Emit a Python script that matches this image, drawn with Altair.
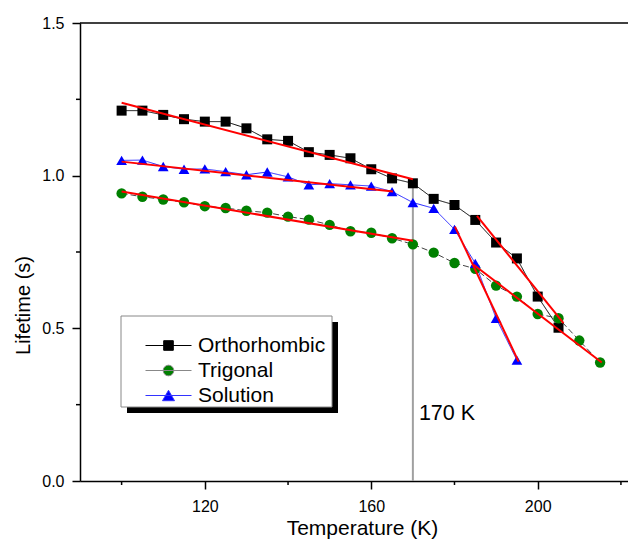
import altair as alt
import pandas as pd

# ---------------- data ----------------
series_names = ["Orthorhombic", "Trigonal", "Solution"]

temp_ortho = [100, 105, 110, 115, 120, 125, 130, 135, 140, 145, 150, 155, 160,
              165, 170, 175, 180, 185, 190, 195, 200, 205]
life_ortho = [1.213, 1.213, 1.199, 1.185, 1.177, 1.177, 1.155, 1.119, 1.114, 1.077,
              1.068, 1.057, 1.021, 0.991, 0.975, 0.924, 0.904, 0.855, 0.781, 0.729,
              0.604, 0.502]

temp_trig = [100, 105, 110, 115, 120, 125, 130, 135, 140, 145, 150, 155, 160,
             165, 170, 175, 180, 185, 190, 195, 200, 205, 210, 215]
life_trig = [0.942, 0.931, 0.922, 0.913, 0.900, 0.894, 0.885, 0.879, 0.866, 0.856,
             0.839, 0.818, 0.813, 0.795, 0.775, 0.748, 0.714, 0.695, 0.640, 0.604,
             0.547, 0.533, 0.460, 0.388]

temp_sol = [100, 105, 110, 115, 120, 125, 130, 135, 140, 145, 150, 155, 160,
            165, 170, 175, 180, 185, 190, 195]
life_sol = [1.050, 1.051, 1.030, 1.021, 1.022, 1.013, 1.003, 1.012, 0.996, 0.970,
            0.974, 0.970, 0.966, 0.948, 0.912, 0.893, 0.824, 0.713, 0.533, 0.396]

# red linear fits (segment id, start/end)
fit_id = ["O1", "O1", "O2", "O2", "T1", "T1", "T2", "T2", "S1", "S1", "S2", "S2"]
fit_temp = [100, 170, 185.4, 206.2, 100, 170, 184.6, 215.4, 100, 165.2, 180.1, 195.4]
fit_life = [1.239, 0.988, 0.868, 0.517, 0.948, 0.787, 0.708, 0.388, 1.046, 0.948, 0.833, 0.391]

x_major = [120, 160, 200]
x_minor = [100, 140, 180, 220]
y_major = [0.0, 0.5, 1.0, 1.5]
y_minor = [0.25, 0.75, 1.25]

marker_T = [170]
marker_L_top = [0.975]
annot_text = ["170 K"]
annot_L = [0.22]

# ---------------- styling ----------------
FONT = "Liberation Sans"
W, H = 548, 458
X_DOMAIN = [90, 221.7]
Y_DOMAIN = [0, 1.5]

fill_colors = ["#000000", "#008000", "#0000ff"]
line_colors = ["#000000", "#444444", "#2222ff"]
legend_line_colors = ["#000000", "#888888", "#3333ff"]
shapes = ["square", "circle", "triangle-up"]
sizes = [100, 115, 150]
dashes = [[1, 0], [6, 3], [1, 0]]
# legend symbols: unit = sqrt(400)/2 = 10 px
legend_paths = [
    "M-2.3,0H2.3M-0.48,-0.48H0.48V0.48H-0.48Z",
    "M-2.3,0H2.3M0.53,0A0.53,0.53,0,1,1,-0.53,0A0.53,0.53,0,1,1,0.53,0Z",
    "M-2.3,0H2.3M0,-0.52L0.6,0.52H-0.6Z",
]

df = pd.concat([
    pd.DataFrame({"series": series_names[0], "T": temp_ortho, "L": life_ortho}),
    pd.DataFrame({"series": series_names[1], "T": temp_trig, "L": life_trig}),
    pd.DataFrame({"series": series_names[2], "T": temp_sol, "L": life_sol}),
], ignore_index=True)
df_fit = pd.DataFrame({"seg": fit_id, "T": fit_temp, "L": fit_life})

xscale = alt.Scale(domain=X_DOMAIN, nice=False, zero=False)
yscale = alt.Scale(domain=Y_DOMAIN, nice=False, zero=True)
xaxis = alt.Axis(values=x_major, title="Temperature (K)", grid=False,
                 labelFont=FONT, labelFontSize=16, labelColor="black", labelPadding=9,
                 tickSize=8, tickWidth=1.5, tickColor="black",
                 domainColor="black", domainWidth=1.5,
                 titleFont=FONT, titleFontSize=21, titleFontWeight="normal",
                 titleColor="black", titleX=282, titleY=47, titleBaseline="middle")
yaxis = alt.Axis(values=y_major, format=".1f", title="Lifetime (s)", grid=False,
                 labelFont=FONT, labelFontSize=16, labelColor="black", labelPadding=8,
                 tickSize=8, tickWidth=1.5, tickColor="black",
                 domainColor="black", domainWidth=1.5,
                 titleFont=FONT, titleFontSize=20, titleFontWeight="normal",
                 titleColor="black", titleX=-57, titleY=282, titleBaseline="middle",
                 titleAlign="center")


def X(field):
    return alt.X(field, type="quantitative", scale=xscale, axis=xaxis)


def Y(field):
    return alt.Y(field, type="quantitative", scale=yscale, axis=yaxis)


one = pd.DataFrame({"a": [0]})

# legend box shadow + box
shadow = alt.Chart(one).mark_rect(color="black").encode(
    x=alt.value(47), x2=alt.value(258), y=alt.value(299), y2=alt.value(390))
box = alt.Chart(one).mark_rect(fill="white", stroke="#888888", strokeWidth=1).encode(
    x=alt.value(41), x2=alt.value(252), y=alt.value(293), y2=alt.value(384))

# top frame line
top_line = alt.Chart(one).mark_rule(color="black", strokeWidth=1.5).encode(
    x=alt.value(0), x2=alt.value(W), y=alt.Y(datum=1.5, scale=yscale, axis=yaxis))

# minor ticks
minor_x = alt.Chart(pd.DataFrame({"t": x_minor})).mark_rule(
    color="black", strokeWidth=1.5).encode(
    x=X("t"), y=alt.value(H), y2=alt.value(H + 4))
minor_y = alt.Chart(pd.DataFrame({"v": y_minor})).mark_rule(
    color="black", strokeWidth=1.5).encode(
    y=Y("v"), x=alt.value(0), x2=alt.value(-4))

# vertical 170 K marker
df_mark = pd.DataFrame({"T": marker_T, "L0": [0.0], "L1": marker_L_top})
vline = alt.Chart(df_mark).mark_rule(color="#a0a0a0", strokeWidth=2).encode(
    x=X("T"), y=Y("L0"), y2=alt.Y2("L1"))

lines = alt.Chart(df).mark_line(strokeWidth=1).encode(
    x=X("T"), y=Y("L"),
    stroke=alt.Stroke("series:N", scale=alt.Scale(domain=series_names, range=line_colors), legend=None),
    strokeDash=alt.StrokeDash("series:N", scale=alt.Scale(domain=series_names, range=dashes), legend=None),
)

points = alt.Chart(df).mark_point(filled=True, opacity=1, strokeWidth=0).encode(
    x=X("T"), y=Y("L"),
    fill=alt.Fill("series:N", scale=alt.Scale(domain=series_names, range=fill_colors), legend=None),
    shape=alt.Shape("series:N", scale=alt.Scale(domain=series_names, range=shapes), legend=None),
    size=alt.Size("series:N", scale=alt.Scale(domain=series_names, range=sizes), legend=None),
)

fits = alt.Chart(df_fit).mark_line(color="red", strokeWidth=2).encode(
    x=X("T"), y=Y("L"), detail="seg:N")

annot = alt.Chart(pd.DataFrame({"T": marker_T, "L": annot_L, "txt": annot_text})).mark_text(
    align="left", baseline="middle", dx=6, font=FONT, fontSize=21.5, color="black").encode(
    x=X("T"), y=Y("L"), text="txt:N")

leg = dict(title=None, orient="none", legendX=78, legendY=312,
           labelFont=FONT, labelFontSize=21, labelColor="black",
           symbolSize=400, symbolStrokeWidth=1, labelOffset=19, padding=0,
           rowPadding=3)

legend_layer = alt.Chart(df).transform_filter("false").mark_point(
    filled=True, opacity=1, size=400, strokeWidth=1).encode(
    x=X("T"), y=Y("L"),
    fill=alt.Fill("series:N", scale=alt.Scale(domain=series_names, range=fill_colors), legend=alt.Legend(**leg)),
    stroke=alt.Stroke("series:N", scale=alt.Scale(domain=series_names, range=legend_line_colors), legend=alt.Legend(**leg)),
    shape=alt.Shape("series:N", scale=alt.Scale(domain=series_names, range=legend_paths), legend=alt.Legend(**leg)),
)

chart = alt.layer(
    shadow, box, top_line, minor_x, minor_y, vline, lines, points, fits, annot, legend_layer
).resolve_scale(
    shape="independent", fill="independent", stroke="independent", size="independent"
).properties(
    width=W, height=H,
    autosize=alt.AutoSizeParams(type="none"),
    padding={"left": 72, "top": 15, "right": 0, "bottom": 58},
    background="white",
).configure_view(stroke=None)

chart.save("out.html", embed_options={"renderer": "svg", "actions": False})
